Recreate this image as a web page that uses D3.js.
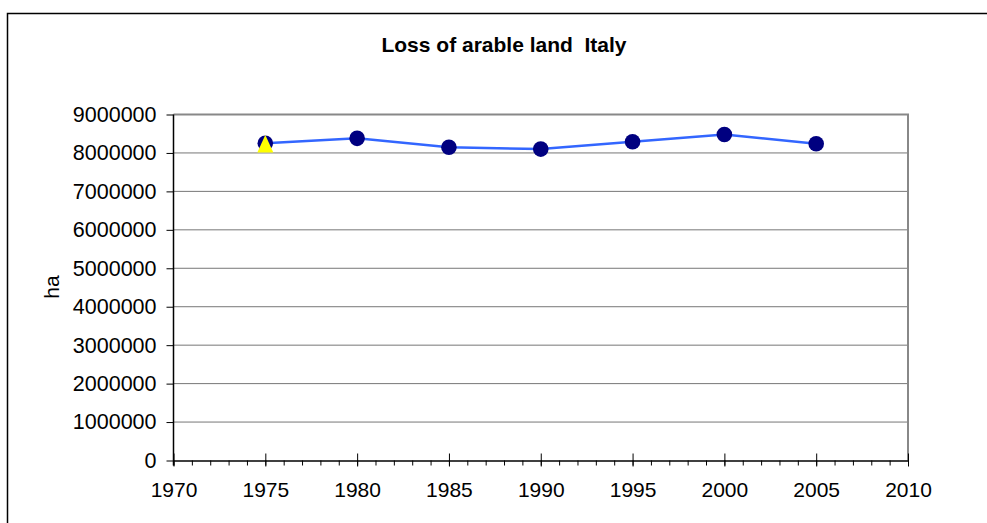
<!DOCTYPE html>
<html>
<head>
<meta charset="utf-8">
<script src="https://cdn.jsdelivr.net/npm/d3@7"></script>
<style>
  body { margin: 0; background: #fff; }
  svg { display: block; font-family: "Liberation Sans", Arial, sans-serif; }
</style>
</head>
<body>
<div id="chart"></div>
<script>
// values
const years = [1975, 1980, 1985, 1990, 1995, 2000, 2005];
const arableLand = [8250000, 8380000, 8150000, 8100000, 8290000, 8480000, 8240000];
const markerYears = [1975];
const markerValues = [8240000];
const yTicks = [0, 1000000, 2000000, 3000000, 4000000, 5000000, 6000000, 7000000, 8000000, 9000000];
const xTicks = [1970, 1975, 1980, 1985, 1990, 1995, 2000, 2005, 2010];
const xMinor = d3.range(1970, 2011);

const width = 987;
const height = 523;
const margin = { top: 114.5, right: 79, bottom: 62.5, left: 173.5 };

const svg = d3.select('#chart')
  .append('svg')
  .attr('width', width)
  .attr('height', height);

// outer frame
svg.append('rect')
  .attr('x', 7.5).attr('y', 13.5)
  .attr('width', 990).attr('height', 520)
  .attr('fill', 'none')
  .attr('stroke', '#000')
  .attr('stroke-width', 1.5);

const x = d3.scaleLinear()
  .domain([1970, 2010])
  .range([margin.left, width - margin.right]);

const y = d3.scaleLinear()
  .domain([0, 9000000])
  .range([height - margin.bottom, margin.top]);

// gridlines
svg.append('g')
  .selectAll('line')
  .data(yTicks.slice(1, -1))
  .join('line')
    .attr('x1', x(1970)).attr('x2', x(2010))
    .attr('y1', d => y(d)).attr('y2', d => y(d))
    .attr('stroke', '#777')
    .attr('stroke-width', 1);

// plot frame top and right
svg.append('path')
  .attr('d', `M${x(1970)},${y(9000000)}H${x(2010)}V${y(0)}`)
  .attr('fill', 'none')
  .attr('stroke', '#888')
  .attr('stroke-width', 2);

// y axis
const yAxis = svg.append('g')
  .attr('transform', `translate(${margin.left},0)`)
  .call(d3.axisLeft(y).tickValues(yTicks).tickFormat(d3.format('d')).tickSize(7).tickPadding(10));
yAxis.select('.domain').remove();
yAxis.selectAll('text').attr('font-size', '21.5px').attr('fill', '#000').attr('font-family', null);
yAxis.append('line')
  .attr('x1', 0).attr('x2', 0)
  .attr('y1', y(9000000)).attr('y2', y(0) + 5)
  .attr('stroke', '#000').attr('stroke-width', 1.5);

// x axis
const xAxisG = svg.append('g')
  .attr('transform', `translate(0,${y(0)})`);
xAxisG.append('g')
  .call(d3.axisBottom(x).tickValues(xMinor).tickFormat('').tickSize(5).tickSizeOuter(0))
  .select('.domain').remove();
const xMajor = xAxisG.append('g')
  .call(d3.axisBottom(x).tickValues(xTicks).tickFormat(d3.format('d')).tickSize(6).tickPadding(16).tickSizeOuter(0));
xMajor.select('.domain').attr('stroke-width', 1.5);
xMajor.selectAll('.tick line').attr('y1', -7);
xMajor.selectAll('text').attr('font-size', '21px').attr('fill', '#000').attr('font-family', null);

// line
const line = d3.line()
  .x((d, i) => x(years[i]))
  .y(d => y(d));

svg.append('path')
  .datum(arableLand)
  .attr('d', line)
  .attr('fill', 'none')
  .attr('stroke', '#3366ff')
  .attr('stroke-width', 2.5);

svg.append('g')
  .selectAll('circle')
  .data(arableLand)
  .join('circle')
    .attr('cx', (d, i) => x(years[i]))
    .attr('cy', d => y(d))
    .attr('r', 7.8)
    .attr('fill', '#000080');

// yellow triangle marker
svg.append('g')
  .selectAll('path')
  .data(markerValues)
  .join('path')
    .attr('transform', (d, i) => `translate(${x(markerYears[i])},${y(d)})`)
    .attr('d', 'M0,-8.7L8,8.7L-8,8.7Z')
    .attr('fill', '#ffff00');

// title
svg.append('text')
  .attr('x', 504)
  .attr('y', 51.5)
  .attr('text-anchor', 'middle')
  .attr('font-size', '21px')
  .attr('font-weight', 'bold')
  .style('white-space', 'pre')
  .text('Loss of arable land  Italy');

// y label
svg.append('text')
  .attr('transform', `translate(59,287) rotate(-90)`)
  .attr('text-anchor', 'middle')
  .attr('font-size', '21px')
  .text('ha');
</script>
</body>
</html>
